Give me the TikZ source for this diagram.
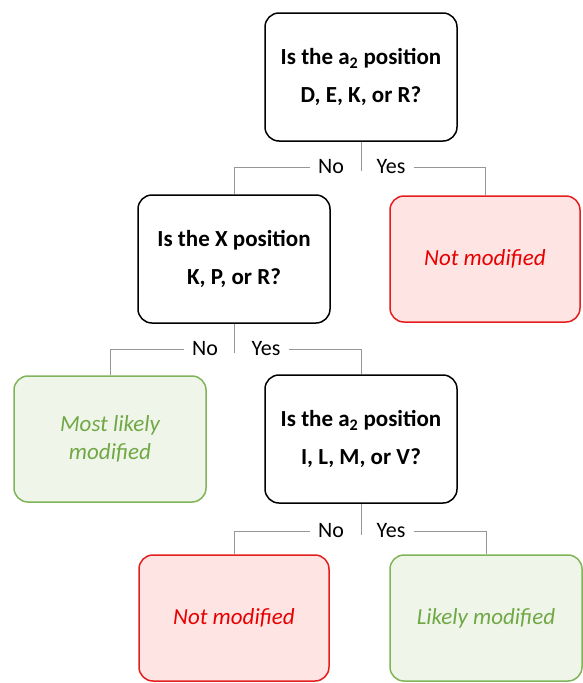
\documentclass[tikz,border=0pt]{standalone}
\usepackage{fontspec}
\setmainfont{Carlito}

\definecolor{linegray}{RGB}{150,150,150}
\definecolor{nofill}{RGB}{255,228,228}
\definecolor{nodraw}{RGB}{228,30,30}
\definecolor{notext}{RGB}{230,0,0}
\definecolor{yesfill}{RGB}{239,245,233}
\definecolor{yesdraw}{RGB}{128,180,88}
\definecolor{yestext}{RGB}{112,168,70}

\begin{document}
\begin{tikzpicture}[x=1pt,y=-1pt,
  question/.style={draw=black,line width=1.5pt,rounded corners=14pt,fill=white,
    minimum width=192pt,minimum height=128pt,align=center,
    font=\bfseries\fontsize{23}{38}\selectfont},
  notmod/.style={draw=nodraw,fill=nofill,text=notext,line width=1.5pt,rounded corners=14pt,
    minimum width=190pt,minimum height=126pt,align=center,
    font=\itshape\fontsize{23}{28}\selectfont},
  ismod/.style={draw=yesdraw,fill=yesfill,text=yestext,line width=1.5pt,rounded corners=14pt,
    minimum width=192pt,minimum height=126pt,align=center,
    font=\itshape\fontsize{23}{28}\selectfont},
  answer/.style={inner sep=8pt,font=\fontsize{22}{26}\selectfont},
  branch/.style={draw=linegray,line width=1pt}]

  \useasboundingbox (0,0) rectangle (582,683);

  % boxes
  \node[question] (q1) at (361,77)  {Is the a\textsubscript{2} position\\D, E, K, or R?};
  \node[question] (q2) at (234,259) {Is the X position\\K, P, or R?};
  \node[notmod]   (r1) at (485,259) {Not modified};
  \node[ismod]    (g1) at (110,439) {Most likely\\modified};
  \node[question] (q3) at (361,439) {Is the a\textsubscript{2} position\\I, L, M, or V?};
  \node[notmod]   (r2) at (234,618) {Not modified};
  \node[ismod]    (g2) at (486,618) {Likely modified};

  % no / yes labels
  \node[answer] (no1)  at (331,167) {No};
  \node[answer] (yes1) at (391,167) {Yes};
  \node[answer] (no2)  at (205,349) {No};
  \node[answer] (yes2) at (266,349) {Yes};
  \node[answer] (no3)  at (331,531) {No};
  \node[answer] (yes3) at (391,531) {Yes};

  \coordinate (t1) at (361,171);
  \coordinate (t2) at (234,353);
  \coordinate (t3) at (361,535);

  % branches
  \draw[branch] (q1.south) -- (t1);
  \draw[branch] (no1.west) -| (q2.north);
  \draw[branch] (yes1.east) -| (r1.north);

  \draw[branch] (q2.south) -- (t2);
  \draw[branch] (no2.west) -| (g1.north);
  \draw[branch] (yes2.east) -| (q3.north);

  \draw[branch] (q3.south) -- (t3);
  \draw[branch] (no3.west) -| (r2.north);
  \draw[branch] (yes3.east) -| (g2.north);

\end{tikzpicture}
\end{document}
